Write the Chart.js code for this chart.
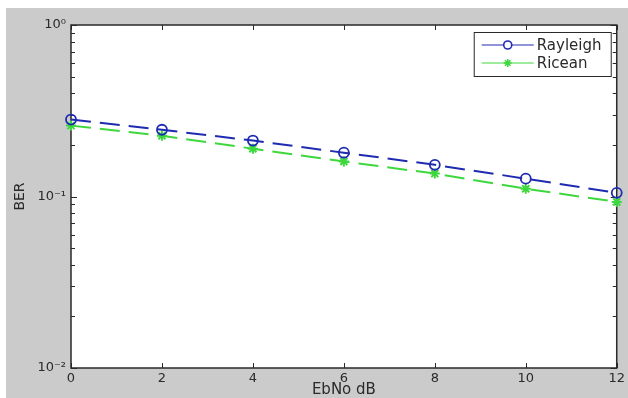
<!DOCTYPE html>
<html>
<head>
<meta charset="utf-8">
<script src="https://cdn.jsdelivr.net/npm/chart.js@4.4.1/dist/chart.umd.min.js"></script>
<style>
  html, body { margin: 0; padding: 0; background: #fff; }
  #wrap { width: 628px; height: 398px; }
</style>
</head>
<body>
<div id="wrap"><canvas id="berChart" width="628" height="398"></canvas></div>
<script>
// values
const ebno = [0, 2, 4, 6, 8, 10, 12];
const rayleigh = [0.281, 0.245, 0.212, 0.180, 0.153, 0.127, 0.105];
const ricean = [0.259, 0.226, 0.190, 0.160, 0.136, 0.111, 0.093];
const seriesNames = ["Rayleigh", "Ricean"];
const xTicks = [0, 2, 4, 6, 8, 10, 12];
const yTicks = [0.01, 0.1, 1];
const yTickLabels = ["10⁻²", "10⁻¹", "10⁰"];

const FIG_GRAY = "#cbcbcb";
const INK = "#2a2a2a";
const BLUE = "#1f2bb0";
const GREEN = "#3ed83e";
const FONT = "'DejaVu Sans', sans-serif";

// matlab-ish figure: gray backdrop, white box, inward ticks
const figurePlugin = {
  id: "figure",
  beforeDraw(chart) {
    const { ctx, chartArea: a } = chart;
    ctx.save();
    ctx.fillStyle = FIG_GRAY;
    ctx.fillRect(6, 8, chart.width - 6, chart.height - 8);
    ctx.fillStyle = "#fff";
    ctx.fillRect(a.left, a.top, a.right - a.left, a.bottom - a.top);
    ctx.restore();
  },
  beforeDatasetsDraw(chart) {
    const { ctx, chartArea: a, scales } = chart;
    const xs = scales.x, ys = scales.y;
    ctx.save();
    ctx.strokeStyle = INK;
    ctx.lineWidth = 1;
    ctx.beginPath();
    xTicks.forEach((v) => {
      const px = Math.round(xs.getPixelForValue(v)) + 0.5;
      ctx.moveTo(px, a.bottom); ctx.lineTo(px, a.bottom - 5);
      ctx.moveTo(px, a.top); ctx.lineTo(px, a.top + 5);
    });
    const yTick = (v, len) => {
      const py = Math.round(ys.getPixelForValue(v)) + 0.5;
      ctx.moveTo(a.left, py); ctx.lineTo(a.left + len, py);
      ctx.moveTo(a.right, py); ctx.lineTo(a.right - len, py);
    };
    yTicks.forEach((v) => yTick(v, 6));
    for (let i = 0; i < yTicks.length - 1; i++) {
      for (let m = 2; m <= 9; m++) yTick(yTicks[i] * m, 4);
    }
    ctx.stroke();
    ctx.lineWidth = 1.5;
    ctx.strokeRect(a.left, a.top, a.right - a.left, a.bottom - a.top);
    ctx.restore();
  },
  afterDraw(chart) {
    const { ctx, chartArea: a } = chart;
    const w = 137, h = 44;
    const left = a.right - 6 - w, top = a.top + 7;
    ctx.save();
    ctx.fillStyle = "#fff";
    ctx.fillRect(left, top, w, h);
    ctx.strokeStyle = INK;
    ctx.lineWidth = 1;
    ctx.strokeRect(left + 0.5, top + 0.5, w, h);
    ctx.font = "15px " + FONT;
    ctx.textBaseline = "middle";
    chart.data.datasets.forEach((ds, i) => {
      const y = top + 13 + i * 18;
      const mx = left + 34;
      ctx.strokeStyle = ds.borderColor;
      ctx.lineWidth = 1;
      ctx.beginPath();
      ctx.moveTo(left + 8, y); ctx.lineTo(left + 60, y);
      ctx.stroke();
      ctx.lineWidth = 1.6;
      ctx.beginPath();
      if (ds.pointStyle === "circle") {
        ctx.fillStyle = "#fff";
        ctx.arc(mx, y, 4, 0, Math.PI * 2);
        ctx.fill();
      } else {
        const r = 4;
        ctx.moveTo(mx - r, y); ctx.lineTo(mx + r, y);
        ctx.moveTo(mx, y - r); ctx.lineTo(mx, y + r);
        ctx.moveTo(mx - r * 0.7, y - r * 0.7); ctx.lineTo(mx + r * 0.7, y + r * 0.7);
        ctx.moveTo(mx - r * 0.7, y + r * 0.7); ctx.lineTo(mx + r * 0.7, y - r * 0.7);
      }
      ctx.stroke();
      ctx.fillStyle = INK;
      ctx.fillText(ds.label, left + 63, y + 1);
    });
    ctx.restore();
  },
};

const data = {
  datasets: [
    {
      label: seriesNames[0],
      data: ebno.map((x, i) => ({ x: x, y: rayleigh[i] })),
      borderColor: BLUE,
      borderWidth: 2,
      borderDash: [20, 9],
      pointStyle: "circle",
      pointRadius: 5,
      pointBorderWidth: 1.8,
      pointBorderColor: BLUE,
      pointBackgroundColor: "rgba(255,255,255,0)",
      clip: false,
    },
    {
      label: seriesNames[1],
      data: ebno.map((x, i) => ({ x: x, y: ricean[i] })),
      borderColor: GREEN,
      borderWidth: 2,
      borderDash: [20, 9],
      pointStyle: "star",
      pointRadius: 5,
      pointBorderWidth: 2,
      pointBorderColor: GREEN,
      pointBackgroundColor: GREEN,
      clip: false,
    },
  ],
};

const config = {
  type: "line",
  data: data,
  options: {
    responsive: false,
    animation: false,
    layout: { padding: { left: 0, right: 8, top: 25, bottom: 0 } },
    plugins: {
      legend: { display: false },
      tooltip: { enabled: false },
    },
    scales: {
      x: {
        type: "linear",
        min: 0,
        max: 12,
        afterBuildTicks: (s) => { s.ticks = xTicks.map((v) => ({ value: v })); },
        afterFit: (s) => { s.height = 30; },
        grid: { display: false, drawTicks: false },
        border: { display: false },
        ticks: { color: INK, font: { family: FONT, size: 13 }, padding: 3, maxRotation: 0 },
        title: {
          display: true,
          text: "EbNo dB",
          color: INK,
          font: { family: FONT, size: 15, lineHeight: 1 },
          padding: { top: 0, bottom: 0 },
        },
      },
      y: {
        type: "logarithmic",
        min: 0.01,
        max: 1,
        afterBuildTicks: (s) => { s.ticks = yTicks.map((v) => ({ value: v })); },
        afterFit: (s) => { s.width = 71; },
        grid: { display: false, drawTicks: false },
        border: { display: false },
        ticks: {
          color: INK,
          font: { family: FONT, size: 13 },
          padding: 5,
          crossAlign: "near",
          callback: (v) => {
            const i = yTicks.findIndex((t) => Math.abs(t - v) < 1e-9);
            return i >= 0 ? yTickLabels[i] : "";
          },
        },
        title: {
          display: true,
          text: "BER",
          color: INK,
          font: { family: FONT, size: 14, lineHeight: 1 },
          padding: { top: 13, bottom: 0 },
        },
      },
    },
  },
  plugins: [figurePlugin],
};

const ctx = document.getElementById("berChart").getContext("2d");
const berChart = new Chart(ctx, config);
</script>
</body>
</html>
